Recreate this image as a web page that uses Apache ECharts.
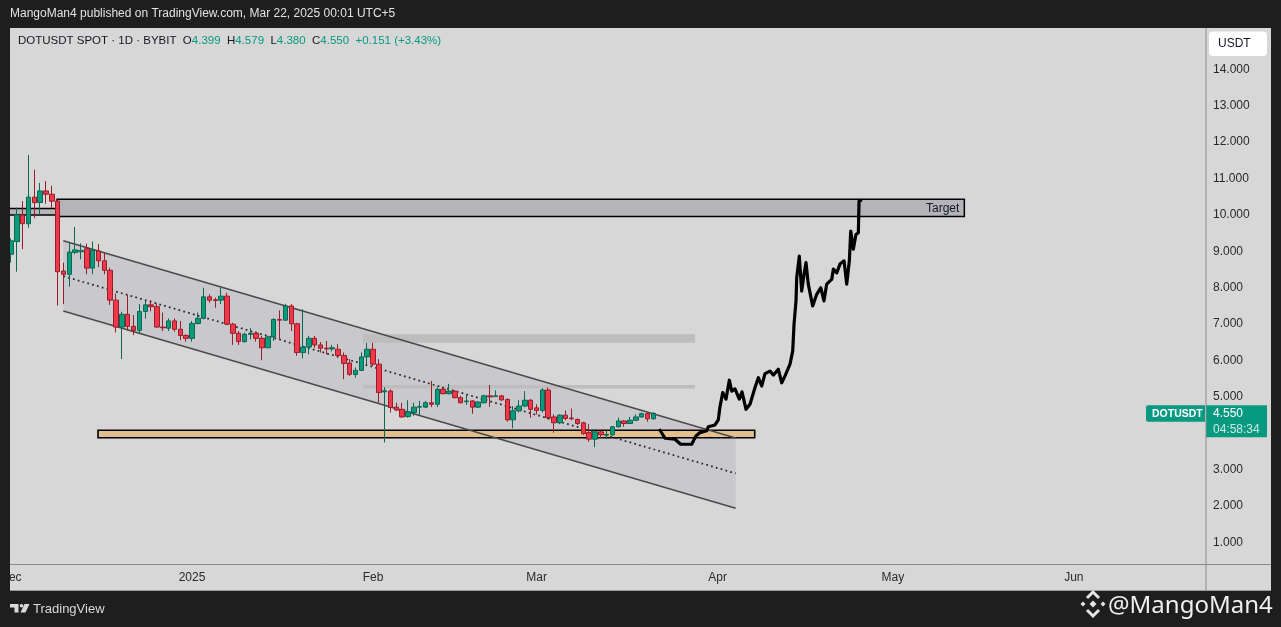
<!DOCTYPE html>
<html><head><meta charset="utf-8">
<script src="https://cdn.jsdelivr.net/npm/echarts@6/dist/echarts.min.js"></script>
<style>html,body{margin:0;padding:0;background:#1e1e1e;overflow:hidden}#c{width:1281px;height:627px}</style>
</head><body><div id="c"></div>
<script>
// ---- Data (daily candles, DOTUSDT spot, Bybit) ----
const dates = [
'2024-12-01','2024-12-02','2024-12-03','2024-12-04','2024-12-05','2024-12-06','2024-12-07','2024-12-08','2024-12-09','2024-12-10',
'2024-12-11','2024-12-12','2024-12-13','2024-12-14','2024-12-15','2024-12-16','2024-12-17','2024-12-18','2024-12-19','2024-12-20',
'2024-12-21','2024-12-22','2024-12-23','2024-12-24','2024-12-25','2024-12-26','2024-12-27','2024-12-28','2024-12-29','2024-12-30',
'2024-12-31','2025-01-01','2025-01-02','2025-01-03','2025-01-04','2025-01-05','2025-01-06','2025-01-07','2025-01-08','2025-01-09',
'2025-01-10','2025-01-11','2025-01-12','2025-01-13','2025-01-14','2025-01-15','2025-01-16','2025-01-17','2025-01-18','2025-01-19',
'2025-01-20','2025-01-21','2025-01-22','2025-01-23','2025-01-24','2025-01-25','2025-01-26','2025-01-27','2025-01-28','2025-01-29',
'2025-01-30','2025-01-31','2025-02-01','2025-02-02','2025-02-03','2025-02-04','2025-02-05','2025-02-06','2025-02-07','2025-02-08',
'2025-02-09','2025-02-10','2025-02-11','2025-02-12','2025-02-13','2025-02-14','2025-02-15','2025-02-16','2025-02-17','2025-02-18',
'2025-02-19','2025-02-20','2025-02-21','2025-02-22','2025-02-23','2025-02-24','2025-02-25','2025-02-26','2025-02-27','2025-02-28',
'2025-03-01','2025-03-02','2025-03-03','2025-03-04','2025-03-05','2025-03-06','2025-03-07','2025-03-08','2025-03-09','2025-03-10',
'2025-03-11','2025-03-12','2025-03-13','2025-03-14','2025-03-15','2025-03-16','2025-03-17','2025-03-18','2025-03-19','2025-03-20',
'2025-03-21'];
const open = [
8.92,9.27,10.00,9.76,10.49,10.34,10.66,10.57,10.38,8.46,
8.37,8.97,8.99,9.07,8.54,9.01,8.74,8.48,7.66,6.92,
7.27,6.94,6.83,7.35,7.53,7.48,6.92,6.89,7.09,6.86,
6.69,6.61,7.02,7.16,7.75,7.67,7.66,7.77,7.00,6.75,
6.52,6.72,6.75,6.61,6.35,6.65,7.13,7.11,7.50,7.01,
6.22,6.37,6.61,6.43,6.34,6.32,6.31,6.14,5.93,5.62,
5.73,6.10,6.31,5.90,5.14,5.16,4.72,4.66,4.46,4.57,
4.72,4.72,4.84,4.80,5.21,5.09,5.16,4.98,4.87,4.89,
4.72,4.84,5.03,5.01,5.03,4.93,4.37,4.62,4.75,4.91,
4.70,4.63,5.19,4.45,4.29,4.50,4.42,4.38,4.29,4.02,
3.84,4.04,3.95,3.96,4.18,4.34,4.27,4.36,4.45,4.54,
4.399];
const high = [
9.36,10.20,10.38,11.65,11.24,10.88,10.93,10.80,10.40,8.69,
9.24,9.67,9.22,9.21,9.27,9.20,8.95,8.55,7.84,7.34,
7.80,7.25,7.55,7.64,7.66,7.57,7.32,7.16,7.16,7.09,
6.72,7.09,7.32,8.00,7.82,7.73,8.00,7.86,7.04,6.81,
6.77,6.89,6.79,6.68,6.68,7.16,7.38,7.56,7.55,7.04,
7.41,6.68,6.68,6.51,6.54,6.43,6.45,6.22,6.04,5.81,
6.22,6.48,6.49,6.04,5.27,5.21,4.84,4.84,4.91,4.84,
4.89,4.89,5.44,5.26,5.27,5.36,5.18,5.03,5.06,4.91,
4.89,5.06,5.33,5.18,5.05,4.96,4.75,4.91,5.16,4.94,
4.80,5.24,5.26,4.52,4.52,4.63,4.68,4.41,4.32,4.25,
4.11,4.08,4.08,4.20,4.43,4.36,4.45,4.52,4.57,4.57,
4.579];
const low = [
8.69,8.44,9.06,9.65,9.91,10.00,10.31,10.20,7.51,7.55,
8.03,8.92,8.78,8.37,8.37,8.57,8.37,7.53,6.77,6.04,
6.83,6.70,6.74,7.15,7.35,6.89,6.81,6.81,6.79,6.56,
6.52,6.52,6.99,7.13,7.59,7.45,7.55,6.98,6.43,6.43,
6.49,6.58,6.52,6.01,6.35,6.54,6.58,7.10,6.81,6.13,
6.06,6.17,6.35,6.22,6.17,6.25,6.08,5.49,5.58,5.53,
5.71,5.90,5.85,4.84,3.75,4.57,4.61,4.43,4.43,4.48,
4.50,4.69,4.72,4.72,5.07,5.07,4.96,4.82,4.78,4.54,
4.70,4.82,4.73,5.00,4.89,4.32,4.14,4.57,4.72,4.43,
4.52,4.57,4.39,4.02,4.25,4.36,4.36,4.23,3.96,3.77,
3.62,3.86,3.84,3.93,4.16,4.18,4.25,4.34,4.43,4.32,
4.380];
const close = [
9.29,10.00,9.76,10.49,10.34,10.66,10.57,10.38,8.44,8.37,
8.98,9.04,9.02,8.54,9.03,8.74,8.48,7.66,6.92,7.27,
6.94,6.83,7.35,7.53,7.48,6.92,6.90,7.09,6.86,6.69,
6.61,7.02,7.16,7.75,7.66,7.65,7.77,7.00,6.75,6.52,
6.72,6.75,6.61,6.35,6.65,7.13,7.11,7.50,7.01,6.22,
6.37,6.61,6.43,6.34,6.32,6.35,6.14,5.92,5.62,5.73,
6.10,6.31,5.90,5.12,5.17,4.71,4.64,4.45,4.59,4.72,
4.74,4.84,4.80,5.21,5.09,5.16,4.98,4.84,4.89,4.72,
4.86,5.03,5.00,5.03,4.92,4.37,4.62,4.75,4.91,4.66,
4.63,5.19,4.43,4.29,4.50,4.41,4.40,4.27,3.99,3.84,
4.04,3.96,3.97,4.18,4.34,4.27,4.36,4.45,4.54,4.399,
4.550];

// Axis ticks
const monthTickDates = ['2024-12-01','2025-01-01','2025-02-01','2025-03-01','2025-04-01','2025-05-01','2025-06-01'];
const monthTickLabels = ['Dec','2025','Feb','Mar','Apr','May','Jun'];
const priceTicks = [1,2,3,4,5,6,7,8,9,10,11,12,13,14];

// Projected path (days after 2024-12-01, price)
const projDay = [111.14,112.0,113.71,114.68,116.57,117.3,117.99,119.14,119.41,120.56,121.12,121.41,121.88,122.44,123.01,123.42,123.98,124.72,125.18,125.87,126.55,127.41,127.98,128.55,129.12,129.98,130.54,131.4,131.98,132.55,133.4,133.86,134.09,134.43,134.55,134.99,135.4,135.8,136.14,136.53,137.28,137.97,138.66,139.22,139.68,140.54,140.82,141.4,141.96,142.65,143.11,143.56,143.8,144.24,144.7,145.1,145.22,145.51];
const projPrice = [4.085,3.865,3.838,3.70,3.70,3.93,4.02,4.07,4.18,4.23,4.37,4.73,5.12,4.94,5.46,5.16,5.22,4.94,5.14,4.66,4.80,5.26,5.53,5.30,5.64,5.71,5.60,5.76,5.39,5.58,5.90,6.26,7.00,7.64,8.28,8.87,7.91,8.37,8.69,8.10,7.50,7.82,8.00,7.64,8.10,8.23,8.51,8.41,8.65,8.74,8.10,8.74,9.56,9.06,9.47,9.51,10.38,10.40];

// Descending channel (days after 2024-12-01, price)
const channelDay = [8.97, 124.1];
const channelUpper = [9.29, 3.87];
const channelMid = [8.32, 2.90];
const channelLower = [7.36, 1.94];

// Zones (days after 2024-12-01, prices)
const zoneNames = ['Target','Prior zone','Support','Gray zone 1','Gray zone 2'];
const zoneStartDay = [7.9, -2, 14.91, 60.24, 60.24];
const zoneEndDay = [163.25, 7.9, 127.36, 117.14, 117.14];
const zoneLow = [9.96, 10.00, 3.88, 6.49, 5.23];
const zoneHigh = [10.43, 10.18, 4.085, 6.72, 5.33];

// ---- Styles ----
const zoneStyles = {
  'Target': {fill:'#b5b4b9', stroke:'#000', lineWidth:1.5, label:'Target'},
  'Prior zone': {fill:'#b5b4b9', stroke:'#000', lineWidth:1.5},
  'Support': {fill:'#e4bf8e', stroke:'#000', lineWidth:1.6},
  'Gray zone 1': {fill:'#bdbdbd', stroke:null, lineWidth:0},
  'Gray zone 2': {fill:'#bdbdbd', stroke:null, lineWidth:0}
};
const FONT = 'Liberation Sans';
const base = Date.UTC(2024, 11, 1);
function dayIndex(s){ const p = s.split('-').map(Number); return (Date.UTC(p[0], p[1]-1, p[2]) - base) / 86400000; }
const xMin = -0.16, xMax = 204.63;
const tickDays = monthTickDates.map(dayIndex);

const candleData = dates.map((s,i) => [dayIndex(s), open[i], close[i], low[i], high[i]]);
const n = close.length;
const lastO = open[n-1], lastH = high[n-1], lastL = low[n-1], lastC = close[n-1];
const chg = lastC - close[n-2];
const chgPct = chg / close[n-2] * 100;
const sign = v => (v >= 0 ? '+' : '');
const headerText = '{s|DOTUSDT SPOT · 1D · BYBIT}  {s|O}{v|' + lastO.toFixed(3) + '}  {s|H}{v|' + lastH.toFixed(3) +
  '}  {s|L}{v|' + lastL.toFixed(3) + '}  {s|C}{v|' + lastC.toFixed(3) + '}  {v|' + sign(chg) + chg.toFixed(3) +
  ' (' + sign(chgPct) + chgPct.toFixed(2) + '%)}';

const chart = echarts.init(document.getElementById('c'), null, {renderer:'canvas'});
const option = {
  animation: false,
  backgroundColor: '#d7d7d7',
  title: {
    left: 18, top: 35, padding: 0, text: headerText,
    textStyle: {fontSize: 11.5, fontFamily: FONT, color:'#131722', fontWeight:'normal',
      rich: {s:{fontSize:11.5, fontFamily:FONT, color:'#131722'}, v:{fontSize:11.5, fontFamily:FONT, color:'#089981'}}}
  },
  grid: {left: 10, right: 75, top: 28, bottom: 63, containLabel: false, outerBoundsMode: 'none'},
  xAxis: {
    type: 'value', min: xMin, max: xMax,
    axisLine: {show:false}, axisTick: {show:false}, splitLine: {show:false},
    axisLabel: {customValues: tickDays, margin: 8, color:'#2a2a2a', fontSize: 12, fontFamily: FONT,
      formatter: v => { const i = tickDays.indexOf(Math.round(v)); return i >= 0 ? monthTickLabels[i] : ''; }}
  },
  yAxis: {
    type: 'value', position: 'right', min: 0.41, max: 15.137, scale: true,
    axisLine: {show:false}, axisTick: {show:false}, splitLine: {show:false},
    axisLabel: {customValues: priceTicks, margin: 7, color:'#2a2a2a', fontSize: 12, fontFamily: FONT,
      formatter: v => Number(v).toFixed(3)}
  },
  series: [
    { // channel fill
      type: 'custom', z: 1, clip: true, silent: true,
      encode: {x: 0, y: 1},
      data: [[channelDay[0], channelLower[0]]],
      renderItem: (params, api) => {
        const pts = [api.coord([channelDay[0], channelUpper[0]]), api.coord([channelDay[1], channelUpper[1]]),
                     api.coord([channelDay[1], channelLower[1]]), api.coord([channelDay[0], channelLower[0]])];
        return {type:'polygon', shape:{points: pts}, style:{fill:'#c9c8cc'}};
      }
    },
    { // zones
      type: 'custom', z: 2, clip: true, silent: true,
      encode: {x: [0,1], y: [2,3]},
      data: zoneNames.map((nm,i) => [zoneStartDay[i], zoneEndDay[i], zoneLow[i], zoneHigh[i]]),
      renderItem: (params, api) => {
        const st = zoneStyles[zoneNames[params.dataIndex]];
        const p1 = api.coord([api.value(0), api.value(3)]);
        const p2 = api.coord([api.value(1), api.value(2)]);
        const children = [{type:'rect', shape:{x:p1[0], y:p1[1], width:p2[0]-p1[0], height:p2[1]-p1[1]},
          style:{fill: st.fill, stroke: st.stroke, lineWidth: st.lineWidth}}];
        if (st.label) children.push({type:'text', style:{text: st.label, x: p2[0]-5, y: (p1[1]+p2[1])/2+0.5,
          align:'right', verticalAlign:'middle', fill:'#131722', font:'12px ' + FONT}});
        return {type:'group', children};
      }
    },
    { type:'line', z:3, symbol:'none', silent:true, data: channelDay.map((d,i)=>[d, channelUpper[i]]), lineStyle:{color:'#4a4a4a', width:1.5} },
    { type:'line', z:3, symbol:'none', silent:true, data: channelDay.map((d,i)=>[d, channelLower[i]]), lineStyle:{color:'#4a4a4a', width:1.5} },
    { type:'line', z:3, symbol:'none', silent:true, data: channelDay.map((d,i)=>[d, channelMid[i]]), lineStyle:{color:'#2e2e2e', width:1.8, type:[1.8,3.2]} },
    {
      type: 'candlestick', z: 4, barWidth: 5,
      data: candleData,
      itemStyle: {color:'#0a9a7c', color0:'#f0384a', borderColor:'#0b6652', borderColor0:'#9a1c29', borderWidth:1}
    },
    { type:'line', z:5, symbol:'none', silent:true, data: projDay.map((d,i)=>[d, projPrice[i]]),
      lineStyle:{color:'#000', width:3.2, join:'round', cap:'round'} },
    { // last price tag on the price scale
      type: 'custom', z: 6, clip: false, silent: true,
      encode: {x: 0, y: 1},
      data: [[xMax, lastC]],
      renderItem: (params, api) => {
        const p = api.coord([api.value(0), api.value(1)]);
        const x = p[0], y = p[1];
        return {type:'group', children:[
          {type:'rect', shape:{x:x-60, y:y-8, width:59, height:16.5, r:[2,0,0,2]}, style:{fill:'#089981'}},
          {type:'text', style:{text:'DOTUSDT', x:x-54, y:y+0.5, verticalAlign:'middle', fill:'#ffffff', font:'bold 10.5px ' + FONT}},
          {type:'rect', shape:{x:x, y:y-8, width:61, height:32}, style:{fill:'#089981'}},
          {type:'text', style:{text:lastC.toFixed(3), x:x+7, y:y+0.5, verticalAlign:'middle', fill:'#ffffff', font:'12px ' + FONT}},
          {type:'text', style:{text:'04:58:34', x:x+7, y:y+16, verticalAlign:'middle', fill:'#cdebe4', font:'12px ' + FONT}}
        ]};
      }
    }
  ],
  graphic: [
    {type:'line', z:90, shape:{x1:1206, y1:28, x2:1206, y2:591}, style:{stroke:'#8a8a8a', lineWidth:1}},
    {type:'line', z:90, shape:{x1:10, y1:564.5, x2:1271, y2:564.5}, style:{stroke:'#8a8a8a', lineWidth:1}},
    {type:'line', z:90, shape:{x1:10, y1:590.5, x2:1271, y2:590.5}, style:{stroke:'#9a9a9a', lineWidth:1}},
    {type:'rect', z:100, shape:{x:0, y:0, width:1281, height:28}, style:{fill:'#1e1e1e'}},
    {type:'rect', z:100, shape:{x:0, y:0, width:10, height:627}, style:{fill:'#1e1e1e'}},
    {type:'rect', z:100, shape:{x:1271, y:0, width:10, height:627}, style:{fill:'#1e1e1e'}},
    {type:'rect', z:100, shape:{x:0, y:591, width:1281, height:36}, style:{fill:'#1e1e1e'}},
    {type:'text', z:101, style:{text:'MangoMan4 published on TradingView.com, Mar 22, 2025 00:01 UTC+5', x:10, y:14,
      verticalAlign:'middle', fill:'#e2e2e2', font:'12px ' + FONT}},
    {type:'rect', z:101, shape:{x:1209, y:31.5, width:58, height:24.5, r:4}, style:{fill:'#ffffff'}},
    {type:'text', z:102, style:{text:'USDT', x:1218, y:44, verticalAlign:'middle', fill:'#131722', font:'12px ' + FONT}},
    // TradingView logo
    {type:'polygon', z:101, shape:{points:[[10,604],[18.5,604],[18.5,612.5],[14.5,612.5],[14.5,607.5],[10,607.5]]}, style:{fill:'#d9d9d9'}},
    {type:'circle', z:101, shape:{cx:21.5, cy:605.8, r:1.8}, style:{fill:'#d9d9d9'}},
    {type:'polygon', z:101, shape:{points:[[24.5,604],[29.5,604],[25.5,612.5],[20.5,612.5]]}, style:{fill:'#d9d9d9'}},
    {type:'text', z:101, style:{text:'TradingView', x:33, y:609, verticalAlign:'middle', fill:'#d9d9d9', font:'13px ' + FONT}},
    // Binance-style mark
    {type:'polygon', z:101, shape:{points:[[1093,600.5],[1096.5,604],[1093,607.5],[1089.5,604]]}, style:{fill:'#e6e6e6'}},
    {type:'polygon', z:101, shape:{points:[[1083,601.5],[1085.5,604],[1083,606.5],[1080.5,604]]}, style:{fill:'#e6e6e6'}},
    {type:'polygon', z:101, shape:{points:[[1103,601.5],[1105.5,604],[1103,606.5],[1100.5,604]]}, style:{fill:'#e6e6e6'}},
    {type:'polyline', z:101, shape:{points:[[1087,598],[1093,592],[1099,598]]}, style:{stroke:'#e6e6e6', lineWidth:3, fill:null}},
    {type:'polyline', z:101, shape:{points:[[1087,610],[1093,616],[1099,610]]}, style:{stroke:'#e6e6e6', lineWidth:3, fill:null}},
    {type:'text', z:101, style:{text:'@MangoMan4', x:1108, y:606, verticalAlign:'middle', fill:'#f0f0f0', font:'24px "Noto Sans"'}}
  ]
};
chart.setOption(option);
</script>
</body></html>
